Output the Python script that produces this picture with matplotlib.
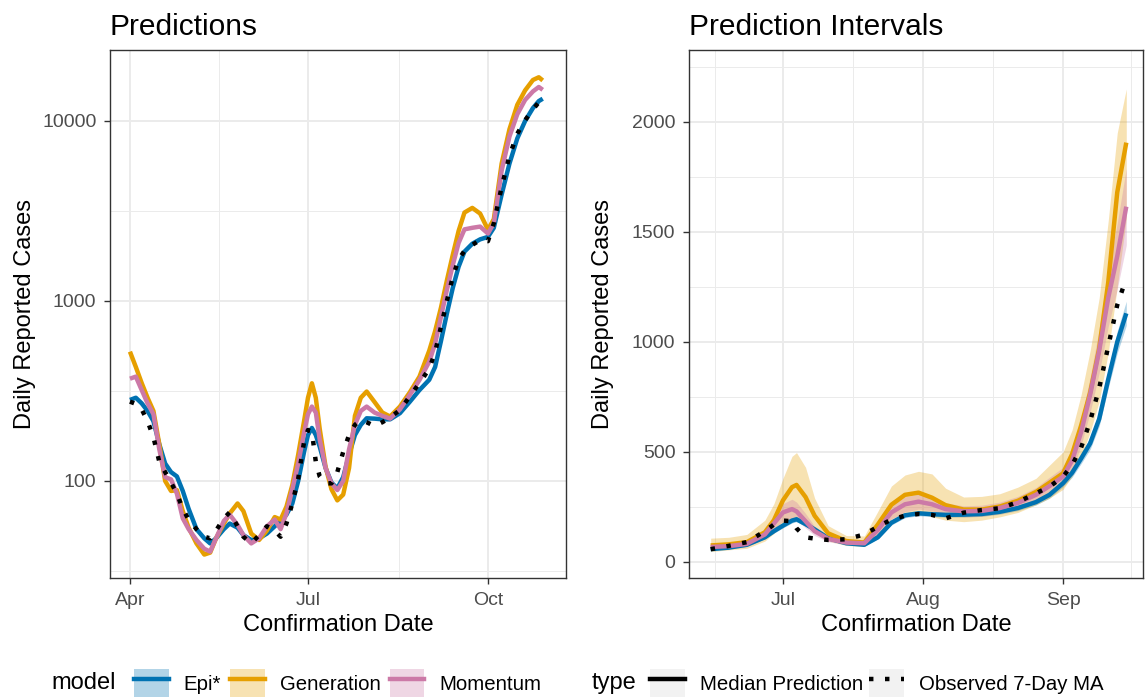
import pandas as pd
import matplotlib
matplotlib.use("Agg")
import matplotlib.pyplot as plt
import matplotlib.dates as mdates
from matplotlib.lines import Line2D
from matplotlib.patches import Patch
from matplotlib.ticker import FixedLocator, FixedFormatter, NullFormatter

plt.rcParams['font.family'] = ['Liberation Sans', 'DejaVu Sans']

# ---- left panel: predictions (days after Apr 1) ----
pred_days = [0, 3, 6, 9, 12, 15, 18, 21, 24, 27, 30, 34, 38, 41, 44, 48, 51, 55, 58, 62,
             66, 70, 74, 77, 80, 83, 86, 89, 91, 93, 95, 97, 100, 103, 106, 109, 112, 115, 118, 121,
             125, 129, 133, 138, 143, 148, 153, 156, 159, 162, 165, 168, 171, 175, 179, 183, 186, 190, 194, 198,
             202, 206, 209, 211]
pred_epi = [282, 290, 270, 245, 215, 160, 125, 112, 106, 88, 70, 54, 48, 45, 48, 54, 58, 55, 50, 47,
            48, 51, 56, 60, 65, 75, 100, 145, 180, 197, 180, 155, 118, 98, 91, 105, 140, 180, 205, 223,
            222, 220, 220, 238, 275, 320, 365, 430, 600, 850, 1180, 1550, 1880, 2080, 2200, 2270, 2550, 3900, 5800, 8000,
            10000, 11800, 12900, 13300]
pred_gen = [523, 430, 350, 290, 245, 160, 100, 88, 89, 68, 55, 45, 39, 40, 48, 58, 66, 75, 68, 51,
            47, 53, 63, 61, 72, 95, 140, 215, 290, 349, 290, 195, 120, 90, 78, 84, 118, 230, 290, 314,
            275, 240, 228, 259, 310, 380, 530, 680, 920, 1300, 1800, 2450, 3100, 3290, 3060, 2490, 2850, 5800, 9000, 12300,
            14800, 16900, 17500, 16800]
pred_mom = [370, 380, 320, 270, 235, 150, 105, 102, 85, 62, 54, 47, 42, 40.5, 48, 60, 65, 57, 50, 45,
            48, 56, 61, 54, 66, 90, 125, 185, 235, 259, 240, 170, 118, 97, 89, 100, 150, 205, 245, 259,
            240, 230, 222, 250, 300, 364, 460, 580, 820, 1150, 1580, 2100, 2500, 2550, 2590, 2370, 2700, 5300, 8200, 10900,
            13100, 14600, 15450, 14900]
pred_obs = [276, 268, 250, 215, 175, 128, 112, 98, 85, 70, 61, 54, 49, 48, 53, 62, 67, 56, 49, 45,
            50, 56, 53, 49, 58, 75, 103, 165, 192, 188, 128, 106, 97, 97, 112, 145, 180, 205, 218, 212,
            202, 212, 225, 248, 295, 350, 420, 520, 720, 1000, 1360, 1700, 1900, 2050, 2180, 2150, 2700, 4300, 6400, 8500,
            10100, 11600, 12700, 13000]

# ---- right panel: prediction intervals (days after Jul 1) ----
int_days = [-16, -12, -8, -4, -2, 0, 2, 3, 5, 7, 10, 14, 18, 21, 24, 27, 30, 33, 36, 40,
            44, 48, 52, 56, 59, 62, 64, 66, 68, 70, 72, 74, 76]
int_epi = [58, 65, 78, 112, 140, 165, 188, 194, 172, 148, 108, 85, 78, 112, 178, 212, 221, 217, 214, 215,
           218, 228, 245, 272, 305, 358, 405, 470, 539, 650, 830, 1000, 1130]
int_epi_lo = [54, 61, 73, 105, 131, 155, 177, 183, 162, 139, 101, 80, 73, 105, 168, 201, 210, 206, 203, 204,
              207, 217, 233, 259, 290, 341, 385, 447, 512, 617, 790, 950, 1075]
int_epi_hi = [62, 69, 83, 119, 149, 175, 199, 205, 182, 157, 115, 90, 83, 119, 188, 223, 232, 228, 225, 226,
              229, 239, 257, 285, 320, 375, 425, 493, 566, 683, 870, 1050, 1185]
int_gen = [75, 80, 90, 135, 190, 280, 340, 350, 295, 210, 130, 95, 88, 170, 260, 305, 315, 292, 258, 238,
           238, 252, 278, 318, 360, 403, 490, 620, 770, 970, 1270, 1680, 1906]
int_gen_lo = [47, 55, 62, 95, 130, 170, 200, 205, 180, 135, 95, 75, 70, 120, 195, 220, 222, 205, 190, 183,
              190, 205, 225, 260, 290, 330, 390, 480, 590, 730, 950, 1250, 1560]
int_gen_hi = [108, 112, 125, 190, 265, 380, 480, 497, 430, 290, 165, 120, 118, 230, 345, 395, 412, 400, 335, 295,
              298, 310, 340, 380, 440, 500, 600, 760, 960, 1200, 1550, 1950, 2150]
int_mom = [68, 72, 82, 125, 175, 225, 240, 230, 185, 140, 105, 88, 85, 145, 225, 262, 274, 262, 240, 230,
           232, 245, 268, 305, 345, 388, 460, 590, 760, 960, 1200, 1390, 1615]
int_mom_lo = [55, 60, 70, 105, 150, 185, 195, 188, 155, 120, 92, 78, 75, 125, 195, 228, 240, 232, 215, 205,
              208, 220, 240, 275, 310, 350, 415, 530, 680, 860, 1070, 1240, 1440]
int_mom_hi = [82, 86, 96, 145, 200, 265, 285, 272, 220, 162, 120, 100, 98, 168, 255, 296, 308, 295, 268, 255,
              258, 272, 298, 338, 385, 430, 510, 650, 840, 1060, 1330, 1540, 1790]
int_obs = [58, 73, 90, 140, 170, 188, 185, 153, 112, 106, 100, 103, 125, 160, 193, 210, 218, 214, 198, 224,
           236, 244, 272, 312, 342, 388, 440, 520, 640, 790, 980, 1168, 1290]

models = ['Epi*', 'Generation', 'Momentum']
colors = ['#0072B2', '#E69F00', '#CC79A7']

pred_dates = pd.Timestamp('2020-04-01') + pd.to_timedelta(pred_days, unit='D')
int_dates = pd.Timestamp('2020-07-01') + pd.to_timedelta(int_days, unit='D')

LW = 3.2
DOT = (0, (1, 2.6))
GRID = '#EBEBEB'
DARK = '#333333'

fig = plt.figure(figsize=(11.45, 6.98), dpi=100)
ax1 = fig.add_axes([110 / 1145, 1 - 578 / 698, 456 / 1145, 528 / 698])
ax2 = fig.add_axes([689 / 1145, 1 - 578 / 698, 454 / 1145, 528 / 698])

# left: predictions on log scale
for vals, c in zip([pred_epi, pred_gen, pred_mom], colors):
    ax1.plot(pred_dates, vals, color=c, lw=LW, solid_capstyle='butt', solid_joinstyle='round')
ax1.plot(pred_dates, pred_obs, color='black', lw=LW, ls=DOT)
ax1.set_yscale('log')
ax1.set_ylim(28.9, 24800)
d0 = mdates.date2num(pd.Timestamp('2020-04-01'))
ax1.set_xlim(d0 - 10.2, d0 + 222.9)
ax1.yaxis.set_major_locator(FixedLocator([100, 1000, 10000]))
ax1.yaxis.set_minor_locator(FixedLocator([10 ** 1.5, 10 ** 2.5, 10 ** 3.5]))
ax1.yaxis.set_major_formatter(FixedFormatter(['100', '1000', '10000']))
ax1.yaxis.set_minor_formatter(NullFormatter())
ax1.xaxis.set_major_locator(mdates.MonthLocator(bymonth=[4, 7, 10]))
ax1.xaxis.set_minor_locator(FixedLocator([d0 + 45.5, d0 + 137.5]))
ax1.set_title('Predictions', loc='left', fontsize=21.5, pad=11)

# right: intervals on linear scale
bands = [(int_epi, int_epi_lo, int_epi_hi), (int_gen, int_gen_lo, int_gen_hi), (int_mom, int_mom_lo, int_mom_hi)]
for (mid, lo, hi), c in zip(bands, colors):
    ax2.fill_between(int_dates, lo, hi, color=c, alpha=0.3, lw=0)
for (mid, lo, hi), c in zip(bands, colors):
    ax2.plot(int_dates, mid, color=c, lw=LW, solid_capstyle='butt', solid_joinstyle='round')
ax2.plot(int_dates, int_obs, color='black', lw=LW, ls=DOT)
ax2.set_ylim(-73, 2327)
j0 = mdates.date2num(pd.Timestamp('2020-07-01'))
ax2.set_xlim(j0 - 20.8, j0 + 79.7)
ax2.yaxis.set_major_locator(FixedLocator([0, 500, 1000, 1500, 2000]))
ax2.yaxis.set_minor_locator(FixedLocator([250, 750, 1250, 1750, 2250]))
ax2.xaxis.set_major_locator(mdates.MonthLocator(bymonth=[7, 8, 9]))
ax2.xaxis.set_minor_locator(FixedLocator([j0 - 15, j0 + 15.5, j0 + 46.5, j0 + 77]))
ax2.set_title('Prediction Intervals', loc='left', fontsize=21.5, pad=11)

for ax, lp in ((ax1, 4), (ax2, 13)):
    ax.xaxis.set_major_formatter(mdates.DateFormatter('%b'))
    ax.set_axisbelow(True)
    ax.grid(which='major', color=GRID, lw=1.4)
    ax.grid(which='minor', color=GRID, lw=0.7)
    for s in ax.spines.values():
        s.set_color(DARK)
        s.set_linewidth(1.0)
    ax.tick_params(which='major', length=4.3, width=1.0, color=DARK, labelcolor='#4D4D4D',
                   labelsize=14, pad=5.5)
    ax.tick_params(which='minor', length=0)
    ax.set_xlabel('Confirmation Date', fontsize=17, labelpad=4)
    ax.set_ylabel('Daily Reported Cases', fontsize=17, labelpad=lp)

# legends along the bottom
ly = 1 - 683 / 698
fig.text(51 / 1145, ly, 'model', fontsize=17, va='center', ha='left')
model_handles = [(Patch(facecolor=c, alpha=0.3, edgecolor='none'), Line2D([], [], color=c, lw=LW))
                 for c in colors]
fig.legend(model_handles, models, loc='center left', bbox_to_anchor=(134 / 1145, ly), ncol=3,
           frameon=False, fontsize=14.7, handlelength=1.7, handleheight=1.7, handletextpad=0.72,
           columnspacing=0.45, borderpad=0, borderaxespad=0)

fig.text(592 / 1145, ly, 'type', fontsize=17, va='center', ha='left')
type_handles = [(Patch(facecolor='#F2F2F2', edgecolor='none'), Line2D([], [], color='black', lw=LW)),
                (Patch(facecolor='#F2F2F2', edgecolor='none'), Line2D([], [], color='black', lw=LW, ls=DOT))]
fig.legend(type_handles, ['Median Prediction', 'Observed 7-Day MA'], loc='center left',
           bbox_to_anchor=(650 / 1145, ly), ncol=2, frameon=False, fontsize=14.7,
           handlelength=1.7, handleheight=1.7, handletextpad=0.75, columnspacing=0.3,
           borderpad=0, borderaxespad=0)

fig.savefig('out.png', dpi=100)
